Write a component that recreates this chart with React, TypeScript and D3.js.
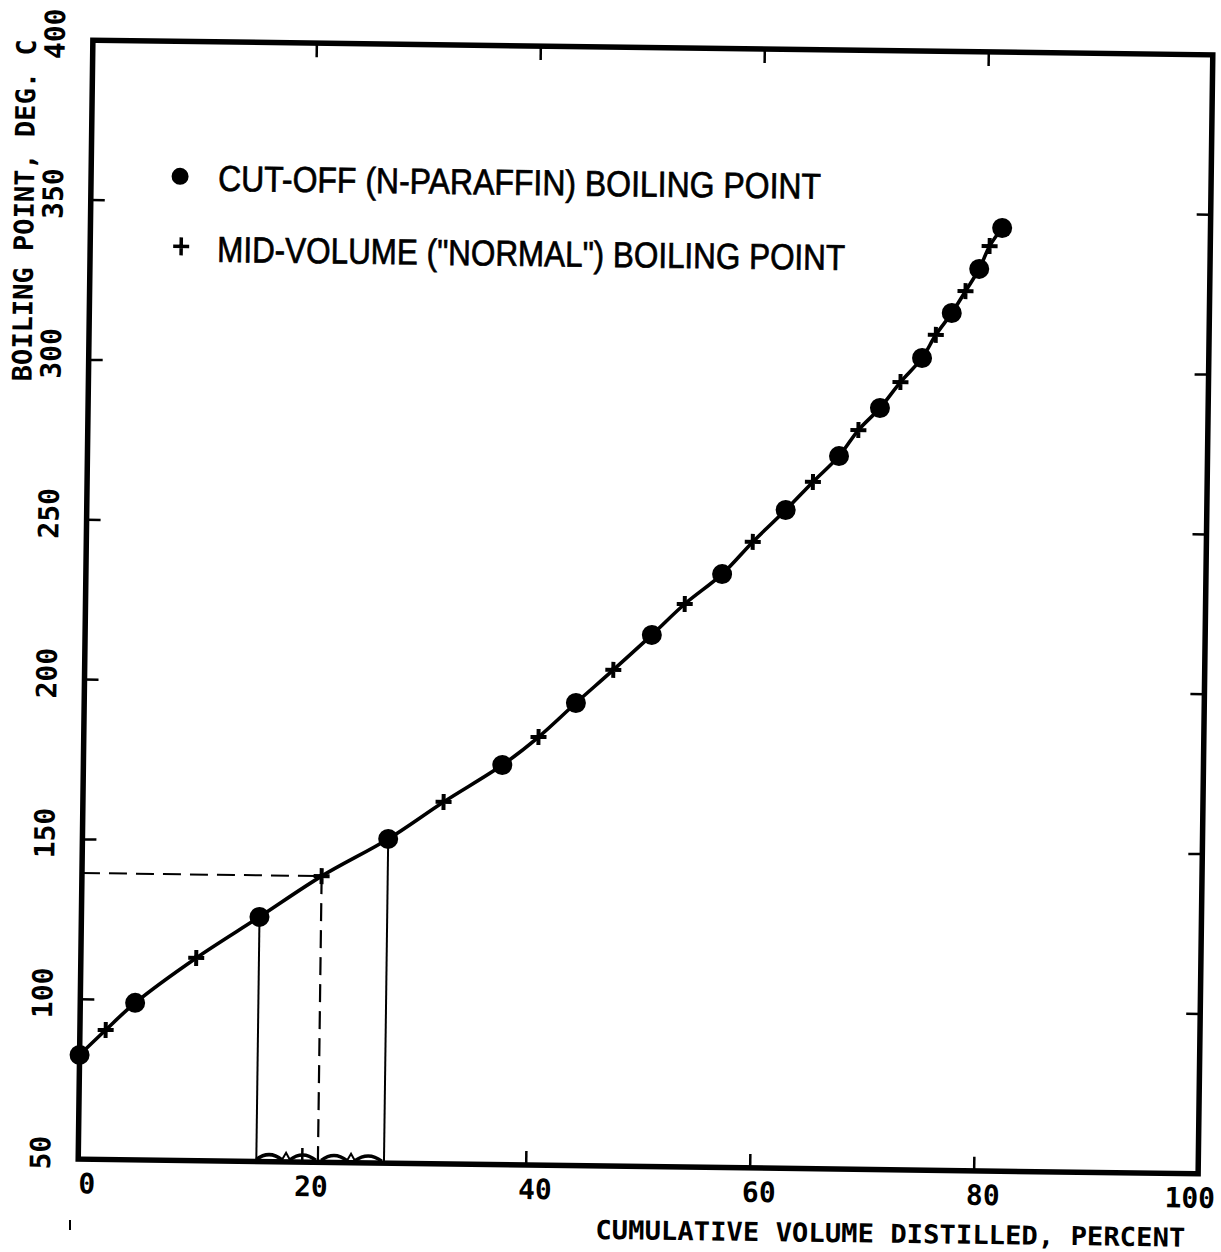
import React from "react";
import * as d3 from "d3";

// cut-off (n-paraffin) boiling points
const cutVol = [0, 4.9, 15.9, 27.3, 37.4, 43.9, 50.6, 56.8, 62.4, 67.1, 70.7, 74.4, 77.0, 79.4, 81.4];
const cutBp = [82.6, 99.1, 126.5, 151.4, 175.0, 194.7, 216.3, 235.6, 255.9, 273.0, 288.2, 304.0, 318.2, 332.1, 345.0];

// mid-volume ("normal") boiling points
const midVol = [2.3, 10.3, 21.4, 32.2, 40.6, 47.2, 53.5, 59.5, 64.8, 68.8, 72.5, 75.6, 78.2, 80.3];
const midBp = [90.5, 113.4, 139.5, 163.2, 183.9, 205.2, 226.1, 245.8, 264.8, 281.2, 296.4, 311.3, 325.1, 339.3];

// which points carry the drop lines
const cutDropIdx = [2, 3];
const midDropIdx = 2;

// little scallops drawn on the x axis between the two drop lines
const bumpFrom = [15.9, 18.9, 21.7, 24.7];
const bumpTo = [18.2, 21.2, 24.0, 27.1];
const bumpTri = [18.55, 24.35];

const xTicks = [0, 20, 40, 60, 80, 100];
const yTicks = [50, 100, 150, 200, 250, 300, 350, 400];
const xInner = [20, 40, 60, 80];
const yInner = [100, 150, 200, 250, 300, 350];

const legendLabels = ["CUT-OFF (N-PARAFFIN) BOILING POINT", "MID-VOLUME (\"NORMAL\") BOILING POINT"];

const W = 1221;
const H = 1252;
const box = {left: 85.5, right: 1205.5, top: 47.5, bottom: 1166.5};
const tilt = 0.75; // the scanned sheet is slightly turned

const plotFont = "'DejaVu Sans Mono', 'Liberation Mono', monospace";
const legendFont = "'Liberation Sans', Arial, sans-serif";

export default function App() {
    const x = d3.scaleLinear().domain([0, 100]).range([box.left, box.right]);
    const y = d3.scaleLinear().domain([50, 400]).range([box.bottom, box.top]);

    const cut = cutVol.map((v, i) => [v, cutBp[i]] as [number, number]);
    const mid = midVol.map((v, i) => [v, midBp[i]] as [number, number]);
    const all = [...cut, ...mid].sort((a, b) => a[0] - b[0]);

    const line = d3.line<[number, number]>()
        .x(d => x(d[0]))
        .y(d => y(d[1]))
        .curve(d3.curveCatmullRom.alpha(0.5));

    const cx = (box.left + box.right) / 2;
    const cy = (box.top + box.bottom) / 2;
    const tick = 14;

    const bumps = bumpFrom.map((a, i) => {
        const x0 = x(a), x1 = x(bumpTo[i]);
        const b = y(50) - 2;
        return `M${x0},${b} Q${(x0 + x1) / 2},${b - 10} ${x1},${b}`;
    }).join(" ");

    const midPt = mid[midDropIdx];

    return (
        <svg width={W} height={H} style={{position: "absolute", left: 0, top: 0, background: "white"}}>
            <g transform={`rotate(${tilt}, ${cx}, ${cy})`} fill="none" stroke="#000">
                {/* drop lines */}
                {cutDropIdx.map(i => (
                    <line key={"d" + i} x1={x(cut[i][0])} x2={x(cut[i][0])} y1={y(cut[i][1])} y2={y(50)} strokeWidth={2} />
                ))}
                <line x1={x(0)} x2={x(midPt[0])} y1={y(midPt[1])} y2={y(midPt[1])} strokeWidth={2} strokeDasharray="18 9" />
                <line x1={x(midPt[0])} x2={x(midPt[0])} y1={y(midPt[1])} y2={y(50)} strokeWidth={2.2} strokeDasharray="18 9" />
                <path d={bumps} strokeWidth={3.5} />
                {bumpTri.map(t => (
                    <path key={"t" + t} d={`M${x(t) - 4},${y(50) - 2} L${x(t)},${y(50) - 9} L${x(t) + 4},${y(50) - 2}`} strokeWidth={2} />
                ))}

                {/* curve */}
                <path d={line(all) ?? ""} strokeWidth={3.6} />
                {cut.map((d, i) => (
                    <circle key={"c" + i} cx={x(d[0])} cy={y(d[1])} r={10} fill="#000" stroke="none" />
                ))}
                {mid.map((d, i) => (
                    <path key={"m" + i} transform={`translate(${x(d[0])},${y(d[1])})`} d="M-8,0H8M0,-8V8" strokeWidth={4} />
                ))}

                {/* frame and ticks */}
                <rect x={box.left} y={box.top} width={box.right - box.left} height={box.bottom - box.top} strokeWidth={5.5} />
                {xInner.map(v => (
                    <g key={"xt" + v} strokeWidth={2.5}>
                        <line x1={x(v)} x2={x(v)} y1={box.bottom} y2={box.bottom - tick} />
                        <line x1={x(v)} x2={x(v)} y1={box.top} y2={box.top + tick} />
                    </g>
                ))}
                {yInner.map(v => (
                    <g key={"yt" + v} strokeWidth={2.5}>
                        <line x1={box.left} x2={box.left + tick} y1={y(v)} y2={y(v)} />
                        <line x1={box.right} x2={box.right - tick} y1={y(v)} y2={y(v)} />
                    </g>
                ))}

                {/* tick labels */}
                <g fill="#000" stroke="none" fontFamily={plotFont} fontWeight="bold" fontSize={28}>
                    {xTicks.map(v => (
                        <text key={"xl" + v} x={v === 100 ? x(v) - 8 : x(v) + 9} y={box.bottom + 34} textAnchor="middle">{v}</text>
                    ))}
                    {yTicks.map(v => (
                        <text key={"yl" + v} transform={`translate(${box.left - 28},${y(v) - 6}) rotate(-90)`} textAnchor="middle">{v}</text>
                    ))}
                    <text x={box.right - 12} y={box.bottom + 73} textAnchor="end" fontSize={26}
                          textLength={590} lengthAdjust="spacingAndGlyphs">CUMULATIVE VOLUME DISTILLED, PERCENT</text>
                    <text transform={`translate(${box.left - 57},${box.top}) rotate(-90)`} textAnchor="end" fontSize={27}
                          textLength={342} lengthAdjust="spacingAndGlyphs">BOILING POINT, DEG. C</text>
                </g>

                {/* legend */}
                <g fill="#000" stroke="#000" strokeWidth={0.7} fontFamily={legendFont} fontSize={36}>
                    <circle cx={box.left + 89} cy={box.top + 135} r={8.5} stroke="none" />
                    <path transform={`translate(${box.left + 91},${box.top + 205})`} d="M-8,0H8M0,-9V9" strokeWidth={3.5} fill="none" />
                    <text x={box.left + 127} y={box.top + 149} textLength={603} lengthAdjust="spacingAndGlyphs">{legendLabels[0]}</text>
                    <text x={box.left + 127} y={box.top + 220} textLength={628} lengthAdjust="spacingAndGlyphs">{legendLabels[1]}</text>
                </g>
            </g>
            <line x1={70} x2={70} y1={1220} y2={1230} stroke="#000" strokeWidth={2} />
        </svg>
    );
}
